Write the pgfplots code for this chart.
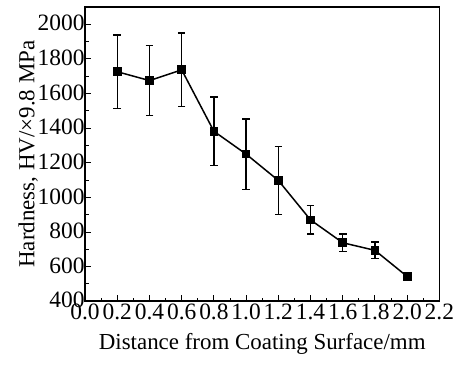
\documentclass[border=0pt]{standalone}
\usepackage{pgfplots}
\pgfplotsset{compat=1.18}
\usepackage{fontspec}
\setmainfont{Liberation Serif}
\begin{document}
\begin{tikzpicture}[x=1bp,y=1bp]
\begin{axis}[
  scale only axis,
  width=354bp, height=294bp,
  xmin=0, xmax=2.2, ymin=400, ymax=2100,
  xtick={0,0.2,...,2.21},
  ytick={400,600,...,2000},
  minor x tick num=1,
  minor y tick num=1,
  tick align=inside,
  xtick pos=bottom, ytick pos=left,
  major tick length=6bp, minor tick length=3.5bp,
  every tick/.style={black, line width=1bp},
  axis line style={line width=1.6bp},
  /pgf/number format/assume math mode=true,
  /pgf/number format/1000 sep={},
  xticklabel style={/pgf/number format/fixed, /pgf/number format/fixed zerofill, /pgf/number format/precision=1, inner xsep=0pt, yshift=1bp},
  yticklabel style={xshift=3bp, yshift=1bp},
  ticklabel style={font=\fontsize{23.5}{25}\selectfont},
  label style={font=\fontsize{23}{25}\selectfont},
  xlabel={Distance from Coating Surface/mm},
  ylabel={Hardness, HV/×9.8 MPa},
  xlabel style={yshift=-7bp},
  ylabel style={yshift=-7bp},
]
\addplot[black, line width=1.5bp, mark=square*, mark size=3.6bp,
  error bars/.cd, y dir=both, y explicit,
  error bar style={line width=1.5bp},
  error mark options={rotate=90, mark size=3.8bp, line width=1.5bp}]
  table[x=x, y=y, y error=e] {
  x y e
  0.2 1726 212
  0.4 1675 203
  0.6 1737 213
  0.8 1382 197
  1.0 1250 204
  1.2 1098 197
  1.4 870 82
  1.6 738 50
  1.8 694 47
  2.0 543 10
  };
\end{axis}
\path ([yshift=7bp]current axis.north) -- ([yshift=-64bp]current axis.south);
\path ([xshift=-85bp]current axis.west);
\end{tikzpicture}
\end{document}
